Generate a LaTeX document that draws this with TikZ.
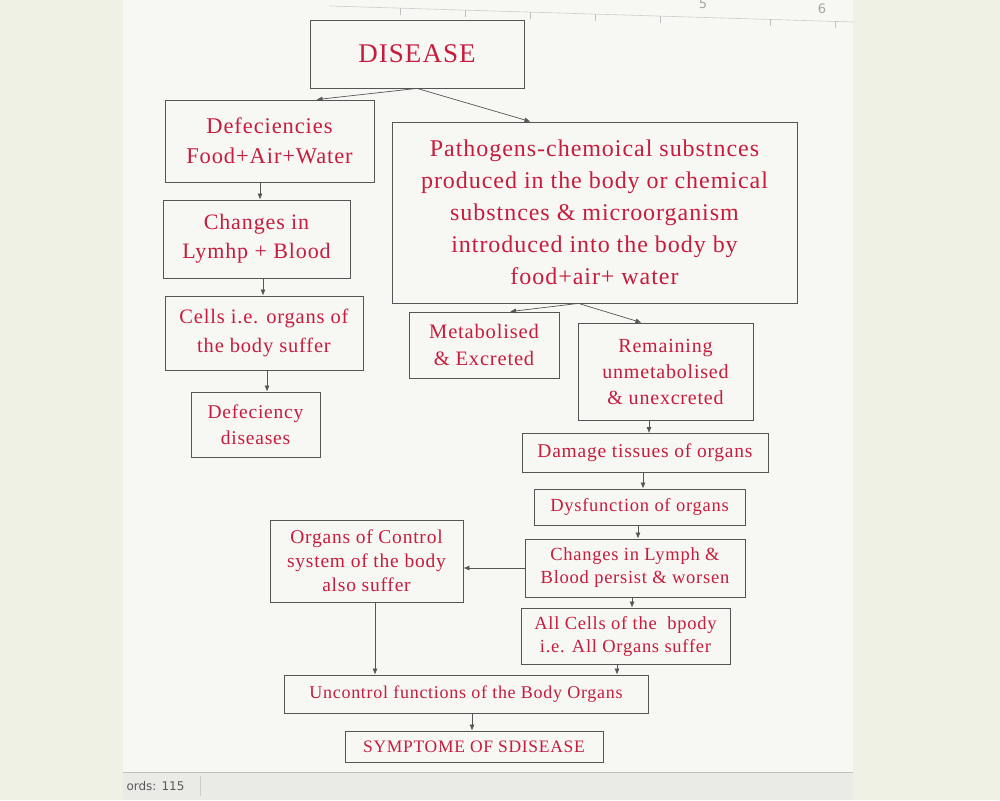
\documentclass[tikz,border=0pt]{standalone}
\usepackage{fontspec}
\setmainfont{Liberation Serif}[LetterSpace=4]
\newfontfamily\uisans{DejaVu Sans}
\usetikzlibrary{calc,arrows.meta}
\definecolor{txtred}{RGB}{198,28,62}
\definecolor{outerbg}{RGB}{238,241,228}
\definecolor{pagebg}{RGB}{247,247,243}
\definecolor{barbg}{RGB}{234,235,230}
\definecolor{boxline}{RGB}{85,85,85}
\tikzset{
  box/.style={draw=boxline, line width=0.8pt, text=txtred, align=center, inner sep=2pt},
  arr/.style={draw=boxline, line width=0.7pt, -{Latex[length=6pt,width=5pt]}},
}
\begin{document}
\begin{tikzpicture}[x=1pt,y=-1pt]
\useasboundingbox (0,0) rectangle (1000,800);
\fill[outerbg] (0,0) rectangle (1000,800);
\fill[pagebg] (123,0) rectangle (853,772);
\fill[barbg] (123,772) rectangle (853,800);
\draw[gray!50, line width=0.6pt] (123,772) -- (853,772);
\node[text=gray!70!black, font=\uisans\fontsize{12}{14}\selectfont, anchor=west] (words) at (123,786) {ords: 115};
\draw[gray!40] (200,776) -- (200,796);
% ruler
\draw[gray!40, line width=0.6pt] (330,6) -- (853,22);
\foreach \x/\y in {400,465,530,595,660,770,835} \draw[gray!50] (\x,{6+(\x-330)*16/523}) -- ++(0,7);
\node[text=gray!70, font=\uisans\fontsize{13}{15}\selectfont] (r5) at (703,4) {5};
\node[text=gray!70, font=\uisans\fontsize{13}{15}\selectfont] (r6) at (822,9) {6};

% left column
\node[box, minimum width=214pt, minimum height=68pt, font=\fontsize{27}{30}\selectfont] (dis) at (417,54) {DISEASE};
\node[box, minimum width=209pt, minimum height=82pt, font=\fontsize{22.5}{30}\selectfont] (def) at (269.5,141) {Defeciencies\\Food+Air+Water};
\node[box, minimum width=187pt, minimum height=78pt, font=\fontsize{22}{29}\selectfont] (chg) at (256.5,239) {Changes in\\Lymhp + Blood};
\node[box, minimum width=198pt, minimum height=74pt, font=\fontsize{20.5}{29}\selectfont] (cel) at (264,333) {Cells i.e. organs of\\the body suffer};
\node[box, minimum width=129pt, minimum height=65pt, font=\fontsize{19.5}{26}\selectfont] (dfd) at (255.5,424.5) {Defeciency\\diseases};

% right part
\node[box, minimum width=405pt, minimum height=181pt, font=\fontsize{24}{32}\selectfont] (pat) at (594.5,212.5) {Pathogens-chemoical substnces\\produced in the body or chemical\\substnces \& microorganism\\introduced into the body by\\food+air+ water};
\node[box, minimum width=150pt, minimum height=66pt, font=\fontsize{20.5}{27}\selectfont] (met) at (484,345) {Metabolised\\\& Excreted};
\node[box, minimum width=175pt, minimum height=97pt, font=\fontsize{20}{26}\selectfont] (rem) at (665.5,371.5) {Remaining\\unmetabolised\\\& unexcreted};
\node[box, minimum width=246pt, minimum height=39pt, font=\fontsize{19.5}{22}\selectfont] (dam) at (645,453) {Damage tissues of organs};
\node[box, minimum width=211pt, minimum height=36pt, font=\fontsize{18.5}{20}\selectfont] (dys) at (639.5,507) {Dysfunction of organs};
\node[box, minimum width=220pt, minimum height=58pt, font=\fontsize{18.5}{23}\selectfont] (per) at (635,568) {Changes in Lymph \&\\Blood persist \& worsen};
\node[box, minimum width=193pt, minimum height=82pt, font=\fontsize{19.5}{24}\selectfont] (ctl) at (366.5,561) {Organs of Control\\system of the body\\also suffer};
\node[box, minimum width=209pt, minimum height=56pt, font=\fontsize{18.5}{23}\selectfont] (all) at (625.5,636) {All Cells of the~~bpody\\i.e. All Organs suffer};
\node[box, minimum width=364pt, minimum height=38pt, font=\fontsize{18}{20}\selectfont] (unc) at (466,694) {Uncontrol functions of the Body Organs};
\node[box, minimum width=258pt, minimum height=31pt, font=\fontsize{17.5}{20}\selectfont] (sym) at (474,746.5) {SYMPTOME OF SDISEASE};

% connectors
\draw[arr] (dis.south) -- ($(def.north)+(47,0)$);
\draw[arr] (dis.south) -- ($(pat.north)+(-64,0)$);
\coordinate (xa) at (260,0);
\coordinate (xb) at (263,0);
\coordinate (xc) at (267,0);
\draw[arr] (def.south -| xa) -- (chg.north -| xa);
\draw[arr] (chg.south -| xb) -- (cel.north -| xb);
\draw[arr] (cel.south -| xc) -- (dfd.north -| xc);
\draw[arr] ($(pat.south)+(-16,0)$) -- ($(met.north)+(26,0)$);
\draw[arr] ($(pat.south)+(-16,0)$) -- ($(rem.north)+(-24,0)$);
\coordinate (xd) at (649,0);
\coordinate (xe) at (643,0);
\coordinate (xf) at (638,0);
\coordinate (xg) at (632,0);
\coordinate (xh) at (617,0);
\coordinate (xi) at (375,0);
\coordinate (xj) at (472,0);
\draw[arr] (rem.south -| xd) -- (dam.north -| xd);
\draw[arr] (dam.south -| xe) -- (dys.north -| xe);
\draw[arr] (dys.south -| xf) -- (per.north -| xf);
\draw[arr] (per.west) -- (per.west -| ctl.east);
\draw[arr] (per.south -| xg) -- (all.north -| xg);
\draw[arr] (ctl.south -| xi) -- (unc.north -| xi);
\draw[arr] (all.south -| xh) -- (unc.north -| xh);
\draw[arr] (unc.south -| xj) -- (sym.north -| xj);
\end{tikzpicture}
\end{document}
